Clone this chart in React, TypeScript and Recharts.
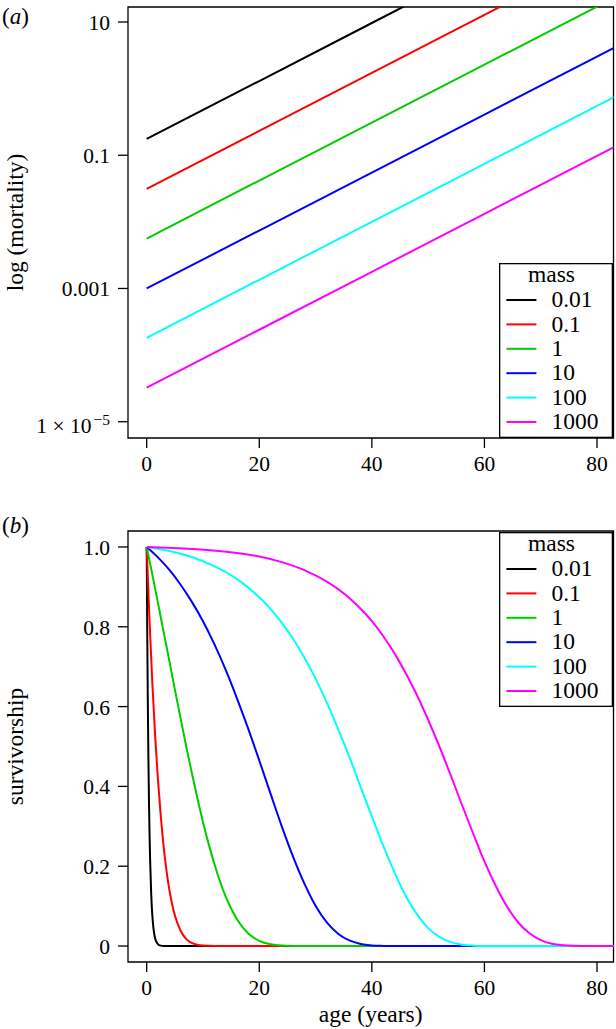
import React from "react";
import { Legend, Line, LineChart, ReferenceArea, XAxis, YAxis } from "recharts";

const FONT = '"Liberation Serif", "Times New Roman", Times, serif';

const masses = ["0.01", "0.1", "1", "10", "100", "1000"];
const massColors = ["#000000", "#FF0000", "#00CD00", "#0000FF", "#00FFFF", "#FF00FF"];

const ageTicks = [0, 20, 40, 60, 80];
const mortalityTicks = [1e-5, 0.001, 0.1, 10];
const mortalityTickLabels = ["1 × 10", "0.001", "0.1", "10"];
const survTicks = [0, 0.2, 0.4, 0.6, 0.8, 1];

// (a) mortality vs age, straight lines on the log axis
const mortalityAges = [0, 20, 40, 60, 85];
const mortality001 = [0.176, 1.3, 9.66, 71.6, 876];
const mortality01 = [0.0313, 0.232, 1.72, 12.8, 155];
const mortality1 = [0.00562, 0.0417, 0.309, 2.29, 28.0];
const mortality10 = [0.001, 0.00741, 0.055, 0.407, 4.98];
const mortality100 = [0.000182, 0.00135, 0.01, 0.0741, 0.907];
const mortality1000 = [0.0000324, 0.00024, 0.00178, 0.0132, 0.161];

// (b) survivorship vs age
const surv001Ages = [0, 0.1, 0.2, 0.3, 0.4, 0.5, 0.6, 0.8, 1, 1.2, 1.5, 2, 2.5, 3, 4, 85];
const surv001 = [1, 0.783, 0.611, 0.476, 0.369, 0.286, 0.221, 0.131, 0.077, 0.045, 0.019, 0.0045, 0.001, 0.0002, 0, 0];

const surv01Ages = [0, 0.5, 1, 1.5, 2, 2.5, 3, 3.5, 4, 4.5, 5, 6, 7, 8, 9, 10, 12, 14, 85];
const surv01 = [1, 0.817, 0.66, 0.528, 0.417, 0.326, 0.251, 0.191, 0.143, 0.106, 0.077, 0.039, 0.018, 0.0079, 0.0031, 0.0011, 0.0001, 0, 0];

const surv1Ages = [0, 1, 2, 3, 4, 5, 6, 7, 8, 9, 10, 11, 12, 13, 14, 15, 16, 18, 20, 22, 24, 26, 28, 85];
const surv1 = [1, 0.931, 0.86, 0.788, 0.716, 0.643, 0.572, 0.502, 0.435, 0.371, 0.311, 0.256, 0.207, 0.163, 0.125, 0.094, 0.068, 0.032, 0.013, 0.0043, 0.0011, 0.0002, 0, 0];

const surv10Ages = [0, 2, 4, 6, 8, 10, 12, 14, 16, 18, 20, 22, 24, 26, 28, 30, 32, 34, 36, 38, 40, 42, 44, 85];
const surv10 = [1, 0.974, 0.943, 0.906, 0.863, 0.814, 0.757, 0.693, 0.622, 0.546, 0.465, 0.382, 0.3, 0.224, 0.157, 0.101, 0.059, 0.031, 0.014, 0.0053, 0.0016, 0.0004, 0, 0];

const surv100Ages = [0, 4, 8, 12, 16, 20, 22, 24, 26, 28, 30, 32, 34, 36, 38, 40, 42, 44, 46, 48, 50, 52, 54, 56, 58, 60, 62, 85];
const surv100 = [1, 0.99, 0.975, 0.952, 0.92, 0.874, 0.845, 0.81, 0.77, 0.723, 0.67, 0.61, 0.544, 0.474, 0.399, 0.325, 0.252, 0.185, 0.126, 0.08, 0.045, 0.023, 0.0098, 0.0035, 0.001, 0.0002, 0, 0];

const surv1000Ages = [0, 8, 16, 20, 24, 28, 32, 36, 38, 40, 42, 44, 46, 48, 50, 52, 54, 56, 58, 60, 62, 64, 66, 68, 70, 72, 74, 76, 78, 85];
const surv1000 = [1, 0.995, 0.985, 0.976, 0.962, 0.942, 0.913, 0.872, 0.845, 0.814, 0.777, 0.734, 0.684, 0.629, 0.567, 0.5, 0.428, 0.354, 0.282, 0.212, 0.151, 0.099, 0.059, 0.032, 0.015, 0.0058, 0.0019, 0.0005, 0, 0];

const toPoints = (ages: number[], vals: number[]) => ages.map((age, i) => ({ age, v: vals[i] }));

const mortalitySeries = [mortality001, mortality01, mortality1, mortality10, mortality100, mortality1000].map((vals) =>
  toPoints(mortalityAges, vals)
);
const survSeries = [
  toPoints(surv001Ages, surv001),
  toPoints(surv01Ages, surv01),
  toPoints(surv1Ages, surv1),
  toPoints(surv10Ages, surv10),
  toPoints(surv100Ages, surv100),
  toPoints(surv1000Ages, surv1000),
];

const X_DOMAIN: [number, number] = [-3.32, 82.93];
const MORT_DOMAIN: [number, number] = [Math.pow(10, -5.2445), Math.pow(10, 1.225)];
const SURV_DOMAIN: [number, number] = [-0.04, 1.04];
const TICK_LINE = { stroke: "#000", strokeWidth: 1.3 };

function XTick(props: any) {
  const { x, y, payload } = props;
  return (
    <text x={x} y={y} dy={22.5} textAnchor="middle" fontFamily={FONT} fontSize={21.5} fill="#000">
      {payload.value}
    </text>
  );
}

function MortalityTick(props: any) {
  const { x, y, payload } = props;
  const idx = mortalityTicks.indexOf(payload.value);
  if (idx === 0) {
    return (
      <text x={x} y={y} textAnchor="end" fontFamily={FONT} fontSize={21.5} fill="#000">
        <tspan dy={11.3}>{mortalityTickLabels[0]}</tspan>
        <tspan dx={2} dy={-8} fontSize={15.5}>−5</tspan>
      </text>
    );
  }
  return (
    <text x={x} y={y} dy={8} textAnchor="end" fontFamily={FONT} fontSize={21.5} fill="#000">
      {mortalityTickLabels[idx]}
    </text>
  );
}

function SurvTick(props: any) {
  const { x, y, payload } = props;
  const v = payload.value as number;
  return (
    <text x={x} y={y} dy={8} textAnchor="end" fontFamily={FONT} fontSize={21.5} fill="#000">
      {v === 0 ? "0" : v.toFixed(1)}
    </text>
  );
}

function PanelTitle({ letter, title, cy, letterY }: { letter: string; title: string; cy: number; letterY: number }) {
  return (
    <g fontFamily={FONT} fill="#000">
      <text x={2} y={letterY} fontSize={23}>
        (<tspan fontStyle="italic">{letter}</tspan>)
      </text>
      <text
        x={15}
        y={cy}
        fontSize={23.5}
        textAnchor="middle"
        dominantBaseline="central"
        transform={`rotate(-90 15 ${cy})`}
      >
        {title}
      </text>
    </g>
  );
}

function MassLegend() {
  return (
    <svg width={114} height={175} style={{ display: "block", overflow: "visible" }}>
      <rect x={0.65} y={0.65} width={112.7} height={173.7} fill="#fff" stroke="#000" strokeWidth={1.3} />
      <text x={52.5} y={18.8} textAnchor="middle" fontFamily={FONT} fontSize={23.5} fill="#000">
        mass
      </text>
      {masses.map((m, i) => {
        const cy = 37 + 24.4 * i;
        return (
          <g key={m}>
            <line x1={7.4} x2={37.4} y1={cy} y2={cy} stroke={massColors[i]} strokeWidth={2} />
            <text x={52.4} y={cy + 7.2} fontFamily={FONT} fontSize={23.5} fill="#000">
              {m}
            </text>
          </g>
        );
      })}
    </svg>
  );
}

export default function App() {
  return (
    <div style={{ position: "absolute", left: 0, top: 0, width: 616, height: 1029, background: "#fff" }}>
      <div style={{ position: "absolute", left: 0, top: 0 }}>
        <LineChart width={616} height={500} margin={{ top: 7, right: 2.5, bottom: 0, left: 8 }}>
          <XAxis
            type="number"
            dataKey="age"
            domain={X_DOMAIN}
            ticks={ageTicks}
            interval={0}
            allowDataOverflow
            axisLine={false}
            tickSize={10}
            tickMargin={0}
            tickLine={TICK_LINE}
            tick={(p: any) => <XTick {...p} />}
            height={62}
          />
          <YAxis
            type="number"
            scale="log"
            domain={MORT_DOMAIN}
            ticks={mortalityTicks}
            interval={0}
            allowDataOverflow
            axisLine={false}
            tickSize={10}
            tickMargin={8}
            tickLine={TICK_LINE}
            tick={(p: any) => <MortalityTick {...p} />}
            width={120}
            label={() => <PanelTitle letter="a" title="log (mortality)" cy={222.5} letterY={23.5} />}
          />
          <ReferenceArea
            x1={X_DOMAIN[0]}
            x2={X_DOMAIN[1]}
            y1={MORT_DOMAIN[0]}
            y2={MORT_DOMAIN[1]}
            fill="none"
            stroke="#000"
            strokeWidth={1.3}
            ifOverflow="visible"
          />
          {mortalitySeries.map((data, i) => (
            <Line
              key={masses[i]}
              data={data}
              dataKey="v"
              name={masses[i]}
              type="linear"
              stroke={massColors[i]}
              strokeWidth={2}
              dot={false}
              isAnimationActive={false}
            />
          ))}
          <Legend
            layout="vertical"
            align="center"
            verticalAlign="middle"
            content={() => <MassLegend />}
            wrapperStyle={{ left: 499.3, top: 262.7, width: 114, height: 175 }}
          />
        </LineChart>
      </div>

      <div style={{ position: "absolute", left: 0, top: 500 }}>
        <LineChart width={616} height={529} margin={{ top: 31, right: 2.5, bottom: 0, left: 8 }}>
          <XAxis
            type="number"
            dataKey="age"
            domain={X_DOMAIN}
            ticks={ageTicks}
            interval={0}
            allowDataOverflow
            axisLine={false}
            tickSize={10}
            tickMargin={0}
            tickLine={TICK_LINE}
            tick={(p: any) => <XTick {...p} />}
            height={67}
            label={() => (
              <text x={370.7} y={522} textAnchor="middle" fontFamily={FONT} fontSize={23.5} fill="#000">
                age (years)
              </text>
            )}
          />
          <YAxis
            type="number"
            domain={SURV_DOMAIN}
            ticks={survTicks}
            interval={0}
            allowDataOverflow
            axisLine={false}
            tickSize={10}
            tickMargin={8}
            tickLine={TICK_LINE}
            tick={(p: any) => <SurvTick {...p} />}
            width={120}
            label={() => <PanelTitle letter="b" title="survivorship" cy={246.5} letterY={32.7} />}
          />
          <ReferenceArea
            x1={X_DOMAIN[0]}
            x2={X_DOMAIN[1]}
            y1={SURV_DOMAIN[0]}
            y2={SURV_DOMAIN[1]}
            fill="none"
            stroke="#000"
            strokeWidth={1.3}
            ifOverflow="visible"
          />
          {survSeries.map((data, i) => (
            <Line
              key={masses[i]}
              data={data}
              dataKey="v"
              name={masses[i]}
              type="monotone"
              stroke={massColors[i]}
              strokeWidth={2}
              dot={false}
              isAnimationActive={false}
            />
          ))}
          <Legend
            layout="vertical"
            align="center"
            verticalAlign="middle"
            content={() => <MassLegend />}
            wrapperStyle={{ left: 499.3, top: 31.7, width: 114, height: 175 }}
          />
        </LineChart>
      </div>
    </div>
  );
}
